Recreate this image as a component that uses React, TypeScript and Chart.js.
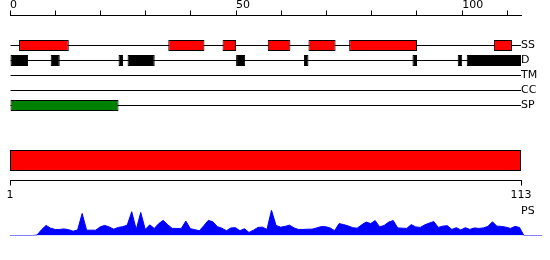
import React, { useEffect, useRef } from 'react';
import { Chart, registerables } from 'chart.js';

Chart.register(...registerables);

// ---- data ----
const AXIS_TICKS = [0, 10, 20, 30, 40, 50, 60, 70, 80, 90, 100, 110];
const AXIS_LABELED = [0, 50, 100];
const TRACK_NAMES = ['SS', 'D', 'TM', 'CC', 'SP'];
const SEQ_START = 1;
const SEQ_END = 113;
const SS_SEGMENTS = [[2, 13], [35, 43], [47, 50], [57, 62], [66, 72], [75, 90], [107, 111]];
const D_SEGMENTS = [[0, 4], [9, 11], [24, 25], [26, 32], [50, 52], [65, 66], [89, 90], [99, 100], [101, 113]];
const TM_SEGMENTS: number[][] = [];
const CC_SEGMENTS: number[][] = [];
const SP_SEGMENTS = [[0, 24]];
const PS_LABEL = 'PS';
const PS_VALUES = [
  0, 0, 0, 0, 0, 0, 0.02, 0.23, 0.40, 0.29,
  0.24, 0.24, 0.26, 0.23, 0.17, 0.22, 0.87, 0.21, 0.21, 0.21,
  0.34, 0.40, 0.34, 0.25, 0.32, 0.35, 0.41, 0.94, 0.24, 0.91,
  0.24, 0.42, 0.28, 0.47, 0.60, 0.42, 0.28, 0.28, 0.28, 0.57,
  0.27, 0.23, 0.19, 0.39, 0.60, 0.54, 0.35, 0.29, 0.19, 0.30,
  0.31, 0.19, 0.27, 0.12, 0.21, 0.32, 0.33, 0.24, 1.00, 0.40,
  0.33, 0.36, 0.41, 0.30, 0.24, 0.24, 0.25, 0.25, 0.30, 0.35,
  0.35, 0.30, 0.19, 0.47, 0.43, 0.38, 0.31, 0.29, 0.42, 0.53,
  0.47, 0.59, 0.34, 0.40, 0.53, 0.59, 0.30, 0.29, 0.28, 0.43,
  0.34, 0.32, 0.42, 0.49, 0.55, 0.32, 0.37, 0.39, 0.24, 0.31,
  0.22, 0.31, 0.24, 0.30, 0.28, 0.30, 0.36, 0.54, 0.37, 0.36,
  0.33, 0.28, 0.36, 0.32, 0, 0, 0, 0, 0,
];

// ---- layout (not data) ----
const TRACK_ROW: Record<string, number> = { SS: 2, D: 3, TM: 4, CC: 5, SP: 6 };
const DOMAIN_ROW = 9.6667;
const ROW_MAX = 11;
const FONT = { family: 'DejaVu Sans', size: 11 };

const segData = (name: string, segs: number[][]) =>
  segs.map(([a, b]) => ({ x: [a, b], y: TRACK_ROW[name] }));

function TrackChart() {
  const ref = useRef<HTMLCanvasElement>(null);
  useEffect(() => {
    if (!ref.current) return;
    const common = { stack: 't', borderSkipped: false, inflateAmount: 0 };
    const gridTicks = { drawOnChartArea: false, drawTicks: true, tickLength: 5, color: '#000', lineWidth: 1, offset: false };
    const chart = new Chart(ref.current, {
      type: 'bar',
      data: {
        datasets: [
          {
            ...common,
            label: 'tracks',
            data: TRACK_NAMES.map((n) => ({ x: [0, SEQ_END], y: TRACK_ROW[n] })),
            backgroundColor: '#000',
            borderWidth: 0,
            barThickness: 1,
            order: 10,
          },
          { ...common, label: 'SS', data: segData('SS', SS_SEGMENTS), backgroundColor: '#ff0000', borderColor: '#000', borderWidth: 1, barThickness: 11, order: 1 },
          { ...common, label: 'D', data: segData('D', D_SEGMENTS), backgroundColor: '#000', borderColor: '#000', borderWidth: 1, barThickness: 11, order: 1 },
          { ...common, label: 'TM', data: segData('TM', TM_SEGMENTS), backgroundColor: '#ff00ff', borderColor: '#000', borderWidth: 1, barThickness: 11, order: 1 },
          { ...common, label: 'CC', data: segData('CC', CC_SEGMENTS), backgroundColor: '#00ffff', borderColor: '#000', borderWidth: 1, barThickness: 11, order: 1 },
          { ...common, label: 'SP', data: segData('SP', SP_SEGMENTS), backgroundColor: '#008000', borderColor: '#000', borderWidth: 1, barThickness: 11, order: 1 },
          {
            ...common,
            label: 'domain',
            xAxisID: 'x2',
            data: [{ x: [SEQ_START, SEQ_END], y: DOMAIN_ROW }],
            backgroundColor: '#ff0000',
            borderColor: '#000',
            borderWidth: 1,
            barThickness: 21,
            order: 1,
          },
        ] as any,
      },
      options: {
        indexAxis: 'y',
        animation: false,
        responsive: false,
        layout: { padding: { left: 10, right: 0, top: 0, bottom: 9.5 } },
        plugins: { legend: { display: false }, tooltip: { enabled: false } },
        scales: {
          x: {
            type: 'linear',
            position: 'top',
            min: 0,
            max: SEQ_END,
            stacked: false,
            offset: false,
            afterBuildTicks: (s: any) => { s.ticks = AXIS_TICKS.map((v) => ({ value: v })); },
            afterFit: (s: any) => { s.height = 15.5; },
            ticks: {
              autoSkip: false,
              maxRotation: 0,
              align: 'start',
              padding: 0,
              color: '#000',
              font: { ...FONT, lineHeight: 1 },
              callback: (v: any) => (AXIS_LABELED.includes(Number(v)) ? String(v) : ''),
            },
            grid: gridTicks,
            border: { display: true, color: '#000', width: 1 },
          },
          x2: {
            type: 'linear',
            position: 'bottom',
            min: SEQ_START,
            max: SEQ_END,
            stacked: false,
            offset: false,
            afterBuildTicks: (s: any) => { s.ticks = [SEQ_START, SEQ_END].map((v) => ({ value: v })); },
            afterFit: (s: any) => { s.height = 20; },
            ticks: { autoSkip: false, maxRotation: 0, padding: 3, color: '#000', font: FONT },
            grid: gridTicks,
            border: { display: true, color: '#000', width: 1 },
          },
          y: {
            type: 'linear',
            position: 'right',
            reverse: true,
            offset: false,
            min: 0,
            max: ROW_MAX,
            stacked: true,
            afterBuildTicks: (s: any) => { s.ticks = TRACK_NAMES.map((n) => ({ value: TRACK_ROW[n] })); },
            afterFit: (s: any) => { s.width = 29; },
            ticks: {
              autoSkip: false,
              padding: 0,
              color: '#000',
              font: FONT,
              callback: (v: any) => TRACK_NAMES.find((n) => TRACK_ROW[n] === Number(v)) ?? '',
            },
            grid: { display: false, drawTicks: false, offset: false },
            border: { display: false },
          },
        } as any,
      },
    });
    return () => chart.destroy();
  }, []);
  return <canvas ref={ref} width={550} height={210} style={{ position: 'absolute', left: 0, top: 0, display: 'block' }} />;
}

function PSChart() {
  const ref = useRef<HTMLCanvasElement>(null);
  useEffect(() => {
    if (!ref.current) return;
    const chart = new Chart(ref.current, {
      type: 'line',
      data: {
        datasets: [
          {
            label: PS_LABEL,
            data: PS_VALUES.map((v, i) => ({ x: i, y: v })),
            borderColor: '#0000ff',
            backgroundColor: '#0000ff',
            borderWidth: 1,
            fill: 'origin',
            pointRadius: 0,
            tension: 0,
          },
        ],
      },
      options: {
        animation: false,
        responsive: false,
        layout: { padding: { left: 10, right: 8, top: 10.2, bottom: 9.5 } },
        plugins: { legend: { display: false }, tooltip: { enabled: false } },
        scales: {
          x: { type: 'linear', display: false, min: 0, max: PS_VALUES.length - 1 },
          y: { type: 'linear', display: false, min: 0, max: 1 },
        },
      },
    });
    return () => chart.destroy();
  }, []);
  return <canvas ref={ref} width={550} height={45} style={{ position: 'absolute', left: 0, top: 200, display: 'block' }} />;
}

export default function App() {
  return (
    <div style={{ position: 'absolute', left: 0, top: 0, width: 550, height: 260, background: '#fff', overflow: 'hidden' }}>
      <TrackChart />
      <PSChart />
      <span
        style={{
          position: 'absolute',
          left: 521,
          top: 205,
          font: '11px "DejaVu Sans"',
          lineHeight: '11px',
          color: '#000',
          whiteSpace: 'nowrap',
        }}
      >
        {PS_LABEL}
      </span>
    </div>
  );
}
